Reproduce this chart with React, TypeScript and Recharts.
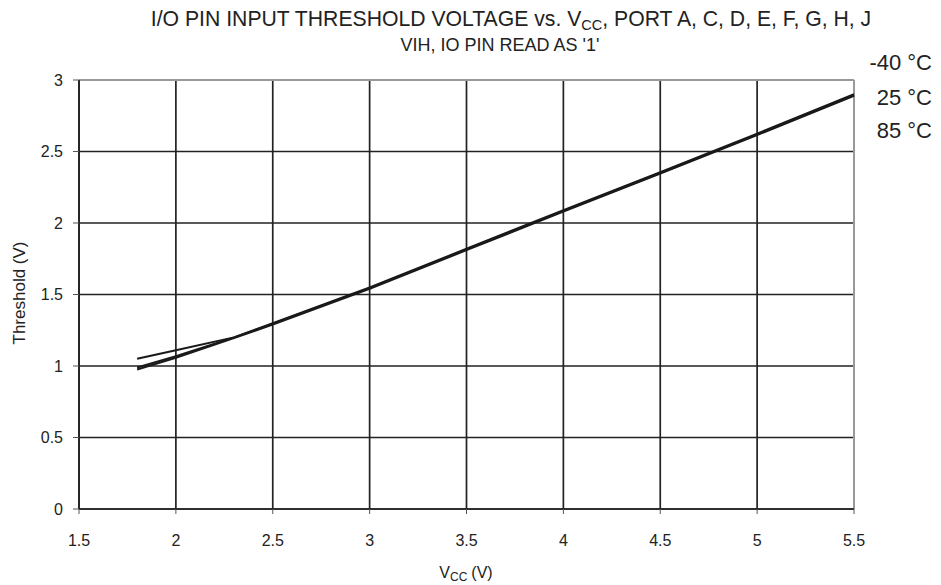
import { LineChart, Line, XAxis, YAxis, CartesianGrid, ReferenceLine } from "recharts";

const vcc = [1.8, 2.0, 2.3, 2.5, 3.0, 3.5, 4.0, 4.5, 5.0, 5.5];
const vihM40 = [1.05, 1.11, 1.2, 1.3, 1.55, 1.82, 2.09, 2.355, 2.625, 2.9];
const vih25 = [0.99, 1.068, 1.2, 1.295, 1.545, 1.815, 2.085, 2.35, 2.62, 2.895];
const vih85 = [0.975, 1.058, 1.195, 1.29, 1.54, 1.81, 2.08, 2.345, 2.615, 2.89];

const xTicks = [1.5, 2, 2.5, 3, 3.5, 4, 4.5, 5, 5.5];
const yTicks = [0, 0.5, 1, 1.5, 2, 2.5, 3];
const tempLabels = ["-40 °C", "25 °C", "85 °C"];

const data = vcc.map((v, i) => ({ vcc: v, t40: vihM40[i], t25: vih25[i], t85: vih85[i] }));

const font = "'Liberation Sans', Arial, Helvetica, sans-serif";
const ink = "#222";

export default function App() {
  return (
    <div style={{ position: "absolute", left: 0, top: 0, width: 941, height: 585, fontFamily: font, background: "#fff" }}>
      <LineChart width={941} height={585} data={data} margin={{ top: 80, right: 87, bottom: 46, left: 0 }}>
        <CartesianGrid stroke={ink} strokeWidth={1.7} />
        <XAxis
          type="number"
          dataKey="vcc"
          domain={[1.5, 5.5]}
          ticks={xTicks}
          height={30}
          tickSize={5}
          tickMargin={21}
          tick={{ fill: ink, fontSize: 16, fontFamily: font }}
          tickLine={{ stroke: "#555" }}
          axisLine={{ stroke: ink, strokeWidth: 1.7 }}
        />
        <YAxis
          type="number"
          domain={[0, 3]}
          ticks={yTicks}
          width={79}
          tickSize={6}
          tickMargin={10}
          tick={{ fill: ink, fontSize: 16, fontFamily: font }}
          tickLine={{ stroke: "#555" }}
          axisLine={{ stroke: ink, strokeWidth: 1.7 }}
        />
        <ReferenceLine y={3} stroke="#999" strokeWidth={2} />
        <ReferenceLine x={5.5} stroke="#999" strokeWidth={2} />
        <Line type="linear" dataKey="t40" stroke="#1a1a1a" strokeWidth={2} dot={false} isAnimationActive={false} />
        <Line type="linear" dataKey="t25" stroke="#1a1a1a" strokeWidth={2} dot={false} isAnimationActive={false} />
        <Line type="linear" dataKey="t85" stroke="#1a1a1a" strokeWidth={2} dot={false} isAnimationActive={false} />
      </LineChart>
      <svg width={941} height={585} style={{ position: "absolute", left: 0, top: 0, pointerEvents: "none" }} fontFamily={font} fill={ink}>
        <text x={511} y={26} textAnchor="middle" fontSize={21.2}>
          I/O PIN INPUT THRESHOLD VOLTAGE vs. V
          <tspan fontSize={14.5} dy={4}>CC</tspan>
          <tspan dy={-4}>, PORT A, C, D, E, F, G, H, J</tspan>
        </text>
        <text x={500} y={51} textAnchor="middle" fontSize={18}>
          VIH, IO PIN READ AS '1'
        </text>
        {tempLabels.map((t, i) => (
          <text key={t} x={932} y={[70, 105, 138][i]} textAnchor="end" fontSize={22}>
            {t}
          </text>
        ))}
        <text x={466} y={578} textAnchor="middle" fontSize={16}>
          V<tspan fontSize={12} dy={3}>CC</tspan>
          <tspan dy={-3} dx={4}>(V)</tspan>
        </text>
        <text x={25} y={293} textAnchor="middle" fontSize={17} transform="rotate(-90 25 293)">
          Threshold (V)
        </text>
      </svg>
    </div>
  );
}
